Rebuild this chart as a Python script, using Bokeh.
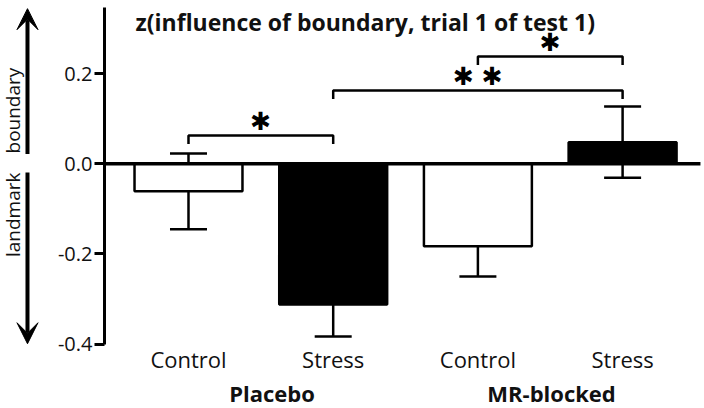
from math import pi
from bokeh.plotting import figure
from bokeh.models import (ColumnDataSource, Range1d, LinearAxis, FixedTicker, Whisker,
                          TeeHead, Arrow, VeeHead, NumeralTickFormatter)
from bokeh.core.properties import value
from bokeh.embed import file_html
from bokeh.resources import INLINE

# ---- data ----
conditions = ["Control", "Stress", "Control", "Stress"]
groups = ["Placebo", "MR-blocked"]
means = [-0.061, -0.312, -0.183, 0.048]
sems = [0.084, 0.071, 0.067, 0.079]
bar_colors = ["white", "black", "white", "black"]
sig_from = [0, 1, 2]
sig_to = [1, 3, 3]
sig_y = [0.063, 0.1625, 0.238]
sig_label = ["\u2731", "\u2731 \u2731", "\u2731"]
y_ticks = [-0.4, -0.2, 0.0, 0.2]
title_text = "z(influence of boundary, trial 1 of test 1)"
up_label = "boundary"
down_label = "landmark"

FONT = "Open Sans"
TXT = "#111111"

x_start, x_end = -1.2992, 3.566
y_start, y_end = -0.5426, 0.3621
yaxis_x = -0.5805
y_axis_top = 0.3466

p = figure(width=704, height=408, x_range=Range1d(x_start, x_end),
           y_range=Range1d(y_start, y_end), x_axis_location=None, y_axis_location=None,
           toolbar_location=None, output_backend="svg",
           min_border_left=0, min_border_right=0, min_border_top=0, min_border_bottom=0)
p.outline_line_color = None
p.background_fill_color = "white"
p.border_fill_color = "white"
p.grid.visible = False

xs = list(range(len(means)))
src = ColumnDataSource(dict(x=xs, top=means, color=bar_colors,
                            upper=[m + s for m, s in zip(means, sems)],
                            lower=[m - s for m, s in zip(means, sems)]))

# bars
p.vbar(x="x", top="top", bottom=0, width=0.746, fill_color="color",
       line_color="black", line_width=2.5, source=src)

# zero line
p.segment(x0=[yaxis_x], y0=[0], x1=[3.538], y1=[0], line_color="black", line_width=3.5)

# error bars
w = Whisker(source=src, base="x", upper="upper", lower="lower", line_color="black",
            line_width=2.5,
            upper_head=TeeHead(size=37, line_color="black", line_width=2.5),
            lower_head=TeeHead(size=37, line_color="black", line_width=2.5))
p.add_layout(w)

# significance brackets
leg = 0.019
bx, by, sx, sy = [], [], [], []
for a, b, yy in zip(sig_from, sig_to, sig_y):
    bx.append([a, a, b, b])
    by.append([yy - leg, yy, yy, yy - leg])
    sx.append((a + b) / 2)
    sy.append(yy + 0.03)
p.multi_line(xs=bx, ys=by, line_color="black", line_width=2.5)
p.text(x=sx, y=sy, text=sig_label, text_align="center", text_baseline="middle",
       text_font=value("DejaVu Sans"), text_font_size="25px", text_color="black")

# title
p.text(x=[-0.366], y=[0.3155], text=[title_text], text_align="left",
       text_baseline="alphabetic", text_font=value(FONT), text_font_style="bold",
       text_font_size="23px", text_color=TXT)

# direction arrows and labels
arr_x = -1.1127
p.add_layout(Arrow(x_start=arr_x, y_start=0.022, x_end=arr_x, y_end=0.344,
                   line_width=4, line_color="black",
                   end=VeeHead(size=21, fill_color="black", line_color="black", line_width=1)))
p.add_layout(Arrow(x_start=arr_x, y_start=-0.0193, x_end=arr_x, y_end=-0.399,
                   line_width=4, line_color="black",
                   end=VeeHead(size=21, fill_color="black", line_color="black", line_width=1)))
p.text(x=[-1.2094, -1.2094], y=[0.118, -0.113], text=[up_label, down_label], angle=pi / 2,
       text_align="center", text_baseline="middle", text_font=value(FONT),
       text_font_size="19px", text_color=TXT)

# y axis at its fixed place
yax = LinearAxis(fixed_location=yaxis_x, ticker=FixedTicker(ticks=y_ticks),
                 formatter=NumeralTickFormatter(format="0.0"), bounds=(-0.4, y_axis_top))
yax.axis_line_width = 3
yax.axis_line_color = "black"
yax.major_tick_line_width = 3
yax.major_tick_line_color = "black"
yax.major_tick_out = 10
yax.major_tick_in = 0
yax.minor_tick_line_color = None
yax.major_label_standoff = 2
yax.major_label_text_font = FONT
yax.major_label_text_font_size = "20px"
yax.major_label_text_color = TXT
p.add_layout(yax, "left")

# x axes: conditions and groups, both hung from y = -0.4
xax = LinearAxis(fixed_location=-0.4, ticker=FixedTicker(ticks=xs),
                 major_label_overrides={i: c for i, c in enumerate(conditions)})
xax.axis_line_color = None
xax.major_tick_line_color = None
xax.minor_tick_line_color = None
xax.major_tick_out = 0
xax.major_tick_in = 0
xax.major_label_standoff = 0
xax.major_label_text_font = FONT
xax.major_label_text_font_size = "22px"
xax.major_label_text_color = TXT
p.add_layout(xax, "below")

group_pos = [0.577, 2.509]
gax = LinearAxis(fixed_location=-0.4, ticker=FixedTicker(ticks=group_pos),
                 major_label_overrides={g_x: g for g_x, g in zip(group_pos, groups)})
gax.axis_line_color = None
gax.major_tick_line_color = None
gax.minor_tick_line_color = None
gax.major_tick_out = 0
gax.major_tick_in = 0
gax.major_label_standoff = 34
gax.major_label_text_font = FONT
gax.major_label_text_font_style = "bold"
gax.major_label_text_font_size = "22px"
gax.major_label_text_color = TXT
p.add_layout(gax, "below")

open("out.html", "w").write(file_html(p, INLINE))
